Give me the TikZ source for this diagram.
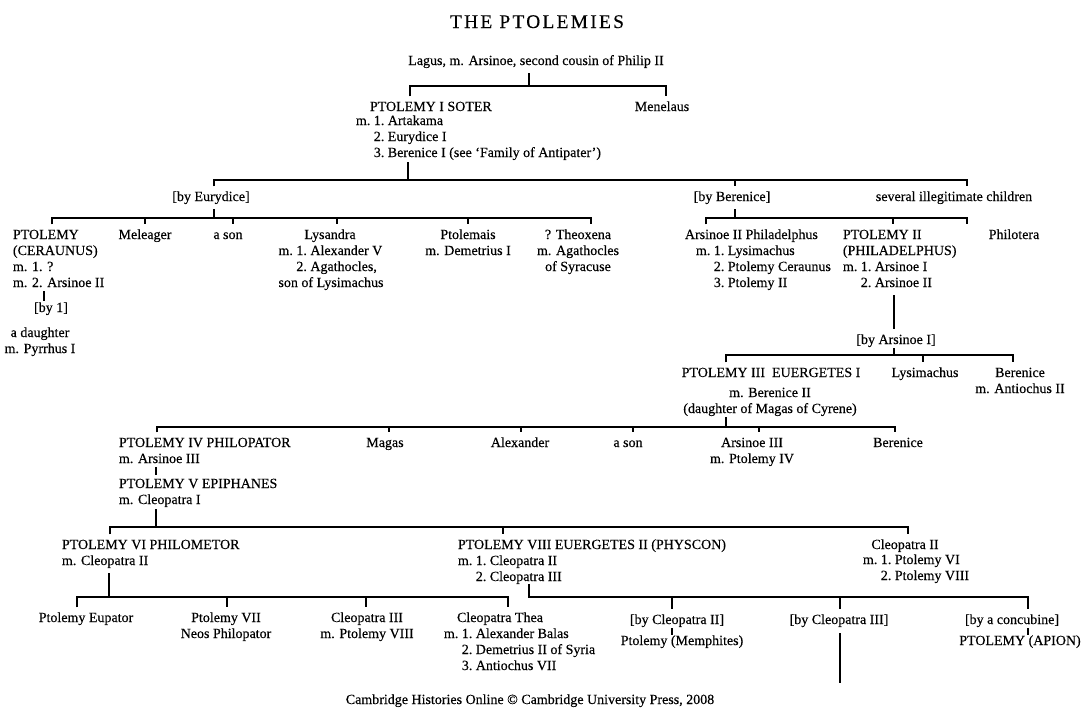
\documentclass[tikz,border=0pt]{standalone}
\usepackage{fontspec}
\setmainfont[FakeBold=0.35]{Liberation Serif}
\newfontfamily\titlefont[LetterSpace=12,FakeBold=0.35]{Liberation Serif}
\usetikzlibrary{calc}
\newcommand{\blkL}[1]{\begin{tabular}[t]{@{}l@{}}#1\end{tabular}}
\newcommand{\blkC}[1]{\begin{tabular}[t]{@{}c@{}}#1\end{tabular}}
\newcommand{\blkM}[1]{\begin{tabular}[t]{@{}l@{\ }r@{\ }l@{}}#1\end{tabular}}
\newcommand{\spanL}[1]{\multicolumn{3}{@{}l@{}}{#1}}
\begin{document}
\begin{tikzpicture}[x=0.75pt,y=-0.75pt,
  every node/.style={inner sep=0.5pt, outer ysep=2pt, font=\fontsize{10.5}{12}\selectfont},
  one/.style={text height=8.4pt, text depth=3.6pt},
  ln/.style={line width=1pt, line join=miter}]
\fill[white] (0,0) rectangle (1084,711);
\useasboundingbox (0,0) rectangle (1084,711);

% ---------- texts ----------
\node[anchor=base] (title) at (537,28) {\titlefont\fontsize{14.5}{16}\selectfont THE PTOLEMIES};
\node[one,anchor=base] (lagus) at (536,65) {Lagus, m. Arsinoe, second cousin of Philip II};
\node[one,anchor=base west] (soter) at (369,111) {PTOLEMY I SOTER};
\node[anchor=base west] (soterm) at (355,125) {\blkM{m. & 1. & Artakama\\ & 2. & Eurydice I\\ & 3. & Berenice I (see ‘Family of Antipater’)}};
\node[one,anchor=base] (menelaus) at (662,111) {Menelaus};

\node[one,anchor=base] (byeur) at (211,201) {[by Eurydice]};
\node[one,anchor=base] (byber) at (732,201) {[by Berenice]};
\node[one,anchor=base] (illeg) at (954,201) {several illegitimate children};

\node[anchor=base west] (ceraunus) at (12,239) {\blkL{PTOLEMY\\(CERAUNUS)\\m. 1. ?\\m. 2. Arsinoe II}};
\node[one,anchor=base] (by1) at (51,312) {[by 1]};
\node[anchor=base] (daughter) at (40,337) {\blkC{a daughter\\m. Pyrrhus I}};
\node[one,anchor=base] (meleager) at (145,239) {Meleager};
\node[one,anchor=base] (ason1) at (228,239) {a son};
\node[one,anchor=base] (lysandra) at (330,239) {Lysandra};
\node[anchor=base] (lysandram) at (331,255) {\blkM{m. & 1. & Alexander V\\ & 2. & Agathocles,\\ \multicolumn{3}{@{}c@{}}{son of Lysimachus}}};
\node[anchor=base] (ptolemais) at (468,239) {\blkC{Ptolemais\\m. Demetrius I}};
\node[anchor=base] (theoxena) at (578,239) {\blkC{? Theoxena\\m. Agathocles\\of Syracuse}};

\node[one,anchor=base west] (arsinoe2) at (684,239) {Arsinoe II Philadelphus};
\node[anchor=base west] (arsinoe2m) at (695,255) {\blkM{m. & 1. & Lysimachus\\ & 2. & Ptolemy Ceraunus\\ & 3. & Ptolemy II}};
\node[anchor=base west] (ptol2) at (842,239) {\blkM{\spanL{PTOLEMY II}\\ \spanL{(PHILADELPHUS)}\\ m. & 1. & Arsinoe I\\ & 2. & Arsinoe II}};
\node[one,anchor=base] (philotera) at (1014,239) {Philotera};

\node[one,anchor=base] (byars) at (896,344) {[by Arsinoe I]};
\node[one,anchor=base] (ptol3) at (771,377) {PTOLEMY III\ \ EUERGETES I};
\node[anchor=base] (ptol3m) at (770,397) {\blkC{m. Berenice II\\(daughter of Magas of Cyrene)}};
\node[one,anchor=base] (lysim) at (925,377) {Lysimachus};
\node[anchor=base] (berenice1) at (1020,377) {\blkC{Berenice\\m. Antiochus II}};

\node[anchor=base west] (ptol4) at (118,447) {\blkL{PTOLEMY IV PHILOPATOR\\m. Arsinoe III}};
\node[anchor=base west] (ptol5) at (118,488) {\blkL{PTOLEMY V EPIPHANES\\m. Cleopatra I}};
\node[one,anchor=base] (magas) at (385,447) {Magas};
\node[one,anchor=base] (alexander) at (520,447) {Alexander};
\node[one,anchor=base] (ason2) at (628,447) {a son};
\node[anchor=base] (arsinoe3) at (752,447) {\blkC{Arsinoe III\\m. Ptolemy IV}};
\node[one,anchor=base] (berenice2) at (898,447) {Berenice};

\node[anchor=base west] (ptol6) at (61,549) {\blkL{PTOLEMY VI PHILOMETOR\\m. Cleopatra II}};
\node[anchor=base west] (ptol8) at (457,549) {\blkM{\spanL{PTOLEMY VIII EUERGETES II (PHYSCON)}\\ m. & 1. & Cleopatra II\\ & 2. & Cleopatra III}};
\node[one,anchor=base] (cleo2) at (905,549) {Cleopatra II};
\node[anchor=base west] (cleo2m) at (862,564) {\blkM{m. & 1. & Ptolemy VI\\ & 2. & Ptolemy VIII}};

\node[one,anchor=base] (eupator) at (86,622) {Ptolemy Eupator};
\node[anchor=base] (ptol7) at (226,622) {\blkC{Ptolemy VII\\Neos Philopator}};
\node[anchor=base] (cleo3) at (367,622) {\blkC{Cleopatra III\\m. Ptolemy VIII}};
\node[one,anchor=base] (thea) at (500,622) {Cleopatra Thea};
\node[anchor=base west] (theam) at (443,638) {\blkM{m. & 1. & Alexander Balas\\ & 2. & Demetrius II of Syria\\ & 3. & Antiochus VII}};
\node[one,anchor=base] (bycl2) at (677,624) {[by Cleopatra II]};
\node[one,anchor=base] (memphites) at (682,645) {Ptolemy (Memphites)};
\node[one,anchor=base] (bycl3) at (839,624) {[by Cleopatra III]};
\node[one,anchor=base] (byconc) at (1012,624) {[by a concubine]};
\node[one,anchor=base] (apion) at (1020,645) {PTOLEMY (APION)};

\node[one,anchor=base] (copy) at (530,704) {Cambridge Histories Online © Cambridge University Press, 2008};

% ---------- connectors ----------
% Lagus
\coordinate (j0) at (529,86);
\draw[ln] (j0 |- lagus.south) -- (j0);
\coordinate (b0a) at (410,86); \coordinate (b0b) at (666,86);
\draw[ln] (b0a |- soter.north) -- (b0a) -- (b0b) -- (b0b |- menelaus.north);

% Ptolemy I Soter
\coordinate (j1) at (408,180);
\draw[ln, shorten <=-2pt] (j1 |- soterm.south) -- (j1);
\coordinate (b1a) at (214,180); \coordinate (b1b) at (967,180); \coordinate (t1) at (735,180);
\draw[ln] (b1a |- byeur.north) -- (b1a) -- (b1b) -- (b1b |- illeg.north);
\draw[ln] (t1) -- (t1 |- byber.north);

% by Eurydice
\coordinate (j2) at (214,218);
\draw[ln] (j2 |- byeur.south) -- (j2);
\coordinate (b2a) at (52,218); \coordinate (b2b) at (591,218);
\draw[ln] (b2a |- ceraunus.north) -- (b2a) -- (b2b) -- (b2b |- theoxena.north);
\coordinate (t2a) at (145,218); \coordinate (t2b) at (233,218);
\coordinate (t2c) at (337,218); \coordinate (t2d) at (468,218);
\draw[ln] (t2a) -- (t2a |- meleager.north);
\draw[ln] (t2b) -- (t2b |- ason1.north);
\draw[ln] (t2c) -- (t2c |- lysandra.north);
\draw[ln] (t2d) -- (t2d |- ptolemais.north);

% by Berenice
\coordinate (j3) at (735,218);
\draw[ln] (j3 |- byber.south) -- (j3);
\coordinate (b3a) at (706,218); \coordinate (b3b) at (967,218); \coordinate (t3) at (893,218);
\draw[ln] (b3a |- arsinoe2.north) -- (b3a) -- (b3b) -- (b3b |- philotera.north);
\draw[ln] (t3) -- (t3 |- ptol2.north);

% Ceraunus -> [by 1]
\coordinate (j4) at (44,300);
\draw[ln, shorten <=-3pt, shorten >=-3pt] (j4 |- ceraunus.south) -- (j4 |- by1.north);

% Ptolemy II -> [by Arsinoe I]
\coordinate (j5) at (894,310);
\draw[ln] (j5 |- ptol2.south) -- (j5 |- byars.north);
\coordinate (j6) at (894,355);
\draw[ln, shorten <=-3pt] (j6 |- byars.south) -- (j6);
\coordinate (b4a) at (726,355); \coordinate (b4b) at (1013,355); \coordinate (t4) at (923,355);
\draw[ln] (b4a |- ptol3.north) -- (b4a) -- (b4b) -- (b4b |- berenice1.north);
\draw[ln] (t4) -- (t4 |- lysim.north);

% Ptolemy III
\coordinate (j7) at (726,427);
\draw[ln, shorten <=-3pt] (j7 |- ptol3m.south) -- (j7);
\coordinate (b5a) at (157,427); \coordinate (b5b) at (895,427);
\coordinate (t5a) at (389,427); \coordinate (t5b) at (521,427);
\coordinate (t5c) at (633,427); \coordinate (t5d) at (759,427);
\draw[ln] (b5a |- ptol4.north) -- (b5a) -- (b5b) -- (b5b |- berenice2.north);
\draw[ln] (t5a) -- (t5a |- magas.north);
\draw[ln] (t5b) -- (t5b |- alexander.north);
\draw[ln] (t5c) -- (t5c |- ason2.north);
\draw[ln] (t5d) -- (t5d |- arsinoe3.north);

% Ptolemy IV -> V
\coordinate (j8) at (156,470);
\draw[ln, shorten <=-3pt, shorten >=-1.5pt] (j8 |- ptol4.south) -- (j8 |- ptol5.north);

% Ptolemy V
\coordinate (j9) at (156,527);
\draw[ln, shorten <=-2pt] (j9 |- ptol5.south) -- (j9);
\coordinate (b6a) at (110,527); \coordinate (b6b) at (908,527); \coordinate (t6) at (503,527);
\draw[ln] (b6a |- ptol6.north) -- (b6a) -- (b6b) -- (b6b |- cleo2.north);
\draw[ln] (t6) -- (t6 |- ptol8.north);

% Ptolemy VI
\coordinate (j10) at (109,597);
\draw[ln] (j10 |- ptol6.south) -- (j10);
\coordinate (b7a) at (77,597); \coordinate (b7b) at (508,597);
\coordinate (t7a) at (227,597); \coordinate (t7b) at (366,597);
\draw[ln] (b7a |- eupator.north) -- (b7a) -- (b7b) -- (b7b |- thea.north);
\draw[ln] (t7a) -- (t7a |- ptol7.north);
\draw[ln] (t7b) -- (t7b |- cleo3.north);

% Ptolemy VIII
\coordinate (j11) at (529,597); \coordinate (b8b) at (1028,597);
\draw[ln, shorten <=-4pt] (j11 |- ptol8.south) -- (j11) -- (b8b) -- (b8b |- byconc.north);
\coordinate (t8a) at (672,597); \coordinate (t8b) at (840,597);
\draw[ln] (t8a) -- (t8a |- bycl2.north);
\draw[ln] (t8b) -- (t8b |- bycl3.north);
\draw[ln] ($(t8a |- bycl2.base)+(0,4)$) -- ($(t8a |- memphites.base)+(0,-10)$);
\draw[ln] ($(b8b |- byconc.base)+(0,4)$) -- ($(b8b |- apion.base)+(0,-10)$);
\coordinate (end3) at (840,683);
\draw[ln] ($(end3 |- bycl3.base)+(0,9)$) -- (end3);
\end{tikzpicture}
\end{document}
